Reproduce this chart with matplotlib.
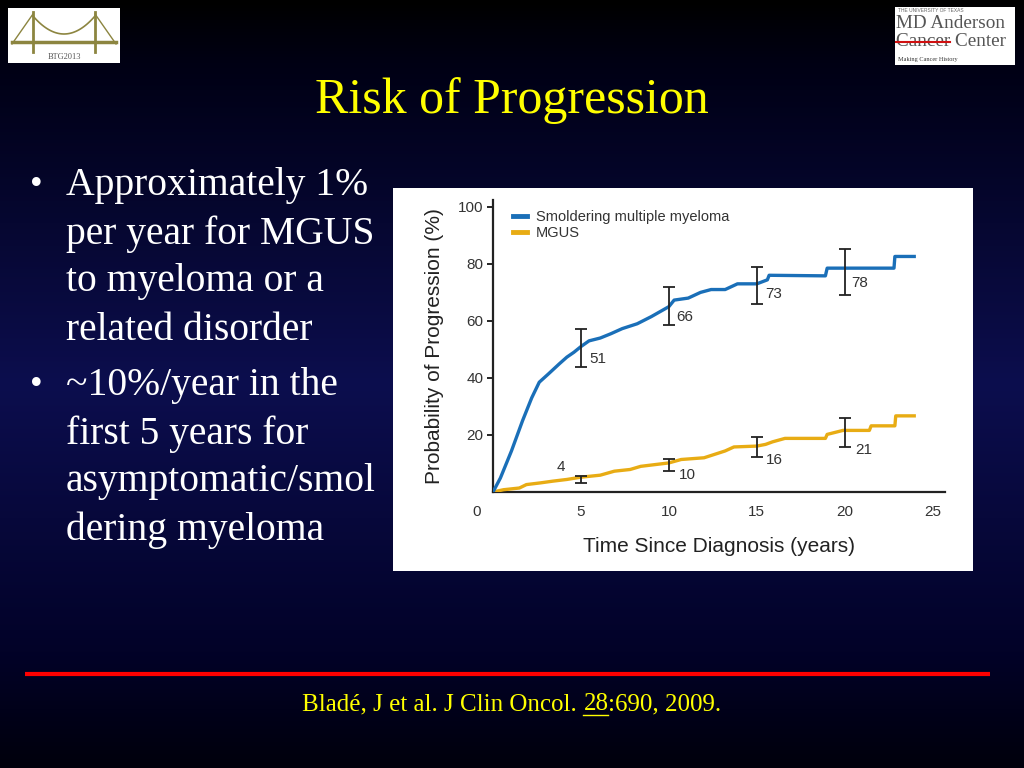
"""
Slide: Risk of Progression (SMM vs MGUS), redrawn with matplotlib
"""

import matplotlib.pyplot as plt
import numpy as np
from matplotlib.patches import Rectangle

# ---- data ----
smm_t = [0, 0.42, 1.05, 1.68, 2.2, 2.63, 3.15, 3.78, 4.2, 4.6, 5.0, 5.46, 6.1, 6.7,
         7.35, 8.2, 9.0, 10.0, 10.3, 11.1, 11.8, 12.4, 13.2, 13.9, 15.0, 15.6, 15.7,
         18.9, 19.0, 22.8, 22.85, 23.95]
smm_p = [0, 4.9, 14.4, 25, 33, 38.5, 41.4, 45, 47.3, 49, 51, 53, 54, 55.5,
         57.3, 59, 61.5, 65, 67.3, 68, 70, 71, 71, 73, 73, 74.4, 76,
         75.8, 78.5, 78.5, 82.6, 82.6]

mgus_t = [0, 0.6, 1.5, 1.9, 2.7, 3.4, 4.2, 5.0, 6.1, 6.9, 7.8, 8.4, 9.2, 10.0, 10.7,
          12.0, 12.6, 13.2, 13.7, 15.0, 15.5, 15.9, 16.6, 18.9, 19.0, 19.9, 21.4,
          21.5, 22.85, 22.9, 23.95]
mgus_p = [0, 0.8, 1.4, 2.6, 3.2, 3.8, 4.4, 5.2, 5.9, 7.3, 7.9, 9.0, 9.6, 10.2, 11.4,
          12.0, 13.2, 14.4, 15.8, 16.1, 16.7, 17.6, 18.8, 18.8, 20.2, 21.6, 21.6,
          23.2, 23.2, 26.7, 26.7]

eb_t = [5, 10, 15, 20]
smm_lo = [44, 58.5, 65.8, 69]
smm_hi = [57, 71.8, 79, 85.3]
mgus_lo = [3.2, 7.3, 12.2, 15.8]
mgus_hi = [5.5, 11.6, 19.3, 26.1]

smm_labels = ["51", "66", "73", "78"]
mgus_labels = ["4", "10", "16", "21"]

x_ticks = [5, 10, 15, 20, 25]
y_ticks = [20, 40, 60, 80, 100]

bullets = [
    ["Approximately 1%", "per year for MGUS", "to myeloma or a", "related disorder"],
    ["~10%/year in the", "first 5 years for", "asymptomatic/smol", "dering myeloma"],
]

# label placement (layout only)
smm_lab_xy = [(5.95, 46.7), (10.9, 61.4), (15.95, 69.6), (20.85, 73.4)]
mgus_lab_xy = [(3.85, 8.7), (11.05, 5.9), (16.0, 11.2), (21.1, 14.7)]

BLUE = "#1a6fb8"
GOLD = "#e8ac14"
W, H = 1024, 768
serif = ["Liberation Serif", "DejaVu Serif"]
sans = ["Liberation Sans", "DejaVu Sans"]

fig = plt.figure(figsize=(10.24, 7.68), dpi=100)

# background gradient + decorations in pixel coords
bg = fig.add_axes([0, 0, 1, 1])
bg.set_xlim(0, W)
bg.set_ylim(H, 0)
bg.axis("off")
rows = np.linspace(0, 1, 256)
stops = [0, 0.08, 0.5, 0.85, 1]
r = np.interp(rows, stops, [0, 0, 12, 2, 0])
g = np.interp(rows, stops, [0, 0, 14, 2, 0])
b = np.interp(rows, stops, [0, 20, 78, 40, 12])
grad = np.stack([r, g, b], axis=1)[:, None, :] / 255.0
bg.imshow(grad, extent=[0, W, H, 0], aspect="auto", zorder=0)

# left logo (bridge)
bg.add_patch(Rectangle((8, 8), 112, 55, facecolor="white", edgecolor="none", zorder=1))
olive = "#8c8540"
for tx in (33, 95):
    bg.plot([tx, tx], [12, 52], color=olive, lw=2, zorder=2)
cx = np.linspace(33, 95, 40)
bg.plot(cx, 16 + 18 * (1 - ((cx - 64) / 31) ** 2), color=olive, lw=1.2, zorder=2)
bg.plot([12, 33], [44, 14], color=olive, lw=1, zorder=2)
bg.plot([95, 116], [14, 44], color=olive, lw=1, zorder=2)
bg.plot([12, 116], [42, 42], color=olive, lw=2.5, zorder=2)
bg.text(64, 57, "BTG2013", color="#555555", fontsize=6, family=serif,
        ha="center", va="center", zorder=3)

# right logo (MD Anderson)
bg.add_patch(Rectangle((895, 7), 120, 58, facecolor="white", edgecolor="none", zorder=1))
bg.text(898, 10, "THE UNIVERSITY OF TEXAS", color="#666666", fontsize=3.5,
        family=sans, va="center", zorder=3)
bg.text(896, 23, "MD Anderson", color="#555555", fontsize=13.8, family=serif,
        va="center", zorder=3)
bg.text(896, 41, "Cancer Center", color="#555555", fontsize=13.8, family=serif,
        va="center", zorder=3)
bg.plot([896, 950], [42, 42], color="#d01010", lw=1.5, zorder=4)
bg.text(898, 59, "Making Cancer History", color="#333333", fontsize=4.5,
        family=serif, va="center", zorder=3)

# title, bullets, citation
bg.text(512, 101, "Risk of Progression", color="#ffff00", fontsize=36,
        family=serif, ha="center", va="center", zorder=3)
y = 186
for group in bullets:
    bg.text(30, y, "\u2022", color="white", fontsize=26, family=serif,
            ha="left", va="center", zorder=3)
    for line in group:
        bg.text(66, y, line, color="white", fontsize=28.5, family=serif,
                ha="left", va="center", zorder=3)
        y += 48
    y += 8

bg.plot([25, 990], [674, 674], color="#ff0000", lw=3, zorder=3, solid_capstyle="butt")

cite_parts = ["Blad\u00e9, J et al. J Clin Oncol. ", "28", ":690, 2009."]
renderer = fig.canvas.get_renderer()
tmp = [bg.text(0, 0, p, fontsize=18, family=serif) for p in cite_parts]
widths = [t.get_window_extent(renderer).width for t in tmp]
for t in tmp:
    t.remove()
x0 = 512 - sum(widths) / 2
for p, w in zip(cite_parts, widths):
    bg.text(x0, 704, p, color="#ffff00", fontsize=18, family=serif,
            ha="left", va="center", zorder=3)
    if p == "28":
        bg.plot([x0, x0 + w], [715, 715], color="#ffff00", lw=1, zorder=3)
    x0 += w

# white chart panel
bg.add_patch(Rectangle((393, 188), 580, 383, facecolor="white", edgecolor="none", zorder=1))

# ---- the chart ----
ax_l, ax_r, ax_t, ax_b = 493, 945, 200, 492
ax = fig.add_axes([ax_l / W, 1 - ax_b / H, (ax_r - ax_l) / W, (ax_b - ax_t) / H])
ax.patch.set_alpha(0)
ax.set_xlim(0, 25.7)
ax.set_ylim(0, 102.4)

ax.plot(mgus_t, mgus_p, color=GOLD, lw=2.4, label="MGUS", zorder=3)
ax.plot(smm_t, smm_p, color=BLUE, lw=2.4, label="Smoldering multiple myeloma", zorder=3)

for lo, hi in ((smm_lo, smm_hi), (mgus_lo, mgus_hi)):
    lo = np.array(lo)
    hi = np.array(hi)
    ax.errorbar(eb_t, (lo + hi) / 2, yerr=(hi - lo) / 2, fmt="none", ecolor="#222222",
                elinewidth=1.3, capsize=4.5, capthick=1.3, zorder=4)

for lab, (lx, ly) in zip(smm_labels + mgus_labels, smm_lab_xy + mgus_lab_xy):
    ax.text(lx, ly, lab, fontsize=11, color="#333333", family=sans,
            ha="center", va="center")

for s in ("top", "right"):
    ax.spines[s].set_visible(False)
for s in ("left", "bottom"):
    ax.spines[s].set_linewidth(1.6)
    ax.spines[s].set_color("#222222")

ax.set_xticks(x_ticks)
ax.set_yticks(y_ticks)
ax.tick_params(axis="x", length=0, pad=9, labelsize=11, labelcolor="#333333")
ax.tick_params(axis="y", length=4, width=1.2, pad=3, labelsize=11, labelcolor="#333333")
for lbl in ax.get_xticklabels() + ax.get_yticklabels():
    lbl.set_family(sans)
ax.annotate("0", xy=(0, 0), xycoords=("data", "axes fraction"), xytext=(-12, -9),
            textcoords="offset points", ha="center", va="top", fontsize=11,
            color="#333333", family=sans)

ax.set_xlabel("Time Since Diagnosis (years)", fontsize=15, color="#222222",
              family=sans, labelpad=13)
ax.set_ylabel("Probability of Progression (%)", fontsize=15, color="#222222",
              family=sans, labelpad=10)

handles, labels = ax.get_legend_handles_labels()
leg = ax.legend(handles[::-1], labels[::-1], loc="upper left", bbox_to_anchor=(0.015, 1.01),
                frameon=False, fontsize=10.5, handlelength=1.0, handletextpad=0.6,
                labelspacing=0.1)
for ln in leg.get_lines():
    ln.set_linewidth(3.5)
for t in leg.get_texts():
    t.set_family(sans)
    t.set_color("#333333")

fig.savefig("out.png", dpi=100)
